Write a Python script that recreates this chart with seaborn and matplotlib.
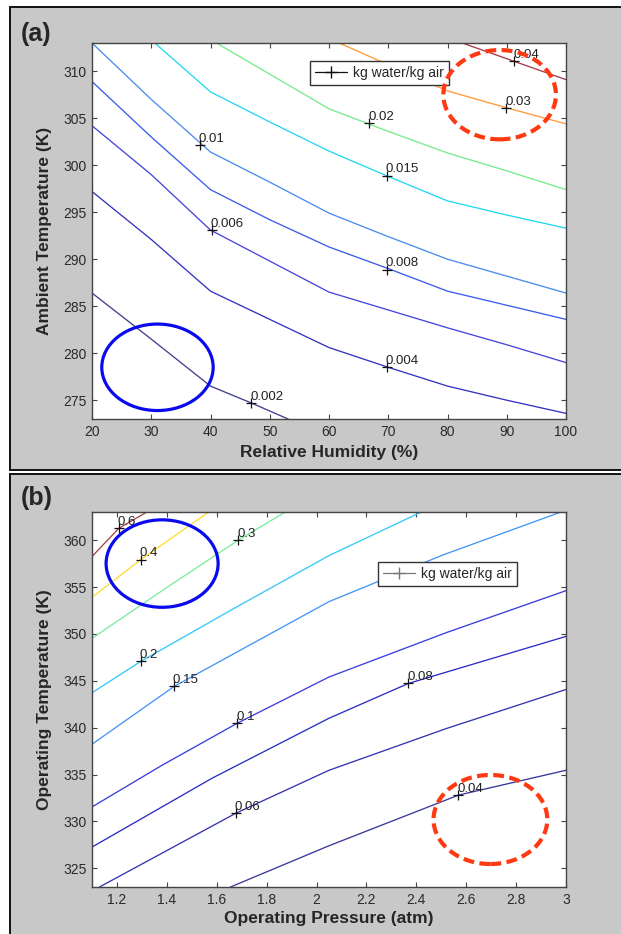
import matplotlib
matplotlib.use("Agg")
import matplotlib.pyplot as plt
import seaborn as sns
import pandas as pd
from matplotlib.patches import Ellipse, Rectangle
from matplotlib.lines import Line2D

# ---------------- Panel (a): humidity ratio vs RH and ambient T ----------------
a_levels = ["0.002", "0.004", "0.006", "0.008", "0.01", "0.015", "0.02", "0.03", "0.04"]
a_colors = ["#40408f", "#3434c0", "#4646dc", "#3a5cee", "#4a8cf0", "#22d8f0", "#78ec8c", "#ff9a3a", "#a83a48"]

rh_a_002 = [20, 30, 40, 46.9, 53.1]
t_a_002 = [286.4, 281.5, 276.5, 274.7, 273.0]
rh_a_004 = [20, 30, 40, 50, 60, 70, 80, 90, 100]
t_a_004 = [297.2, 292.1, 286.6, 283.6, 280.6, 278.5, 276.5, 275.0, 273.6]
rh_a_006 = [20, 30, 40, 50, 60, 70, 80, 90, 100]
t_a_006 = [304.2, 299.0, 293.1, 289.8, 286.5, 284.6, 282.7, 280.9, 279.0]
rh_a_008 = [20, 30, 40, 50, 60, 70, 80, 90, 100]
t_a_008 = [308.9, 303.0, 297.4, 294.2, 291.3, 289.0, 286.6, 285.1, 283.6]
rh_a_010 = [20, 30, 40, 50, 60, 70, 80, 90, 100]
t_a_010 = [313.0, 307.0, 301.4, 298.2, 294.9, 292.4, 290.0, 288.2, 286.4]
rh_a_015 = [30.6, 40, 50, 60, 70, 80, 90, 100]
t_a_015 = [313.0, 307.8, 304.6, 301.5, 298.8, 296.2, 294.7, 293.3]
rh_a_020 = [41.0, 60, 70, 80, 90, 100]
t_a_020 = [313.0, 306.0, 303.6, 301.3, 299.4, 297.4]
rh_a_030 = [61.7, 80, 90, 100]
t_a_030 = [313.0, 307.9, 306.1, 304.4]
rh_a_040 = [82.5, 100]
t_a_040 = [313.0, 309.1]

a_lab_rh = [38.2, 40.2, 46.9, 66.8, 69.8, 69.8, 69.8, 89.9, 91.3]
a_lab_t = [302.1, 293.1, 274.7, 304.5, 298.9, 288.9, 278.5, 306.1, 311.1]
a_lab_txt = ["0.01", "0.006", "0.002", "0.02", "0.015", "0.008", "0.004", "0.03", "0.04"]

a_xticks = [20, 30, 40, 50, 60, 70, 80, 90, 100]
a_yticks = [275, 280, 285, 290, 295, 300, 305, 310]

# ---------------- Panel (b): humidity ratio vs operating P and T ----------------
b_levels = ["0.04", "0.06", "0.08", "0.1", "0.15", "0.2", "0.3", "0.4", "0.6"]
b_colors = ["#38389a", "#3434b0", "#2c2cca", "#3a3ede", "#4496f6", "#36c8f8", "#7aeca0", "#ffdc30", "#a84444"]

p_b_004 = [1.655, 2.05, 2.569, 3.0]
t_b_004 = [323.0, 327.4, 332.8, 335.45]
p_b_006 = [1.13, 1.676, 2.05, 2.52, 3.0]
t_b_006 = [323.0, 330.86, 335.45, 339.9, 344.07]
p_b_008 = [1.1, 1.581, 2.05, 2.368, 3.0]
t_b_008 = [327.26, 334.6, 341.0, 344.71, 349.73]
p_b_010 = [1.1, 1.381, 1.683, 2.05, 2.52, 3.0]
t_b_010 = [331.54, 335.99, 340.48, 345.4, 350.13, 354.61]
p_b_015 = [1.1, 1.429, 2.05, 2.507, 2.98]
t_b_015 = [338.23, 344.39, 353.44, 358.42, 363.0]
p_b_020 = [1.1, 1.296, 1.675, 2.05, 2.42]
t_b_020 = [343.72, 347.07, 352.8, 358.35, 363.0]
p_b_030 = [1.1, 1.395, 1.686, 1.875]
t_b_030 = [349.52, 354.86, 359.99, 363.0]
p_b_040 = [1.1, 1.296, 1.568]
t_b_040 = [353.90, 357.93, 363.0]
p_b_060 = [1.1, 1.208, 1.32]
t_b_060 = [358.25, 361.27, 363.0]

b_lab_p = [1.208, 1.296, 1.686, 1.296, 1.429, 1.683, 2.368, 1.676, 2.569]
b_lab_t = [361.27, 357.93, 359.99, 347.07, 344.39, 340.48, 344.71, 330.86, 332.82]
b_lab_txt = ["0.6", "0.4", "0.3", "0.2", "0.15", "0.1", "0.08", "0.06", "0.04"]

b_xticks = [1.2, 1.4, 1.6, 1.8, 2.0, 2.2, 2.4, 2.6, 2.8, 3.0]
b_xticklabels = ["1.2", "1.4", "1.6", "1.8", "2", "2.2", "2.4", "2.6", "2.8", "3"]
b_yticks = [325, 330, 335, 340, 345, 350, 355, 360]

legend_label = "kg water/kg air"

# highlight ellipses (data coords): center x, center y, width, height
a_red_ell = [88.8, 307.5, 19.0, 9.5]
a_blue_ell = [31.05, 278.5, 18.8, 9.2]
b_blue_ell = [1.381, 357.5, 0.449, 9.33]
b_red_ell = [2.697, 330.2, 0.456, 9.5]

# ---------------------------------------------------------------------------
sns.set_theme(style="white")
plt.rcParams["font.family"] = ["Liberation Sans", "DejaVu Sans"]

W, H = 621, 934
fig = plt.figure(figsize=(W / 100, H / 100), dpi=100)
fig.patch.set_facecolor("white")


def fx(x):
    return x / W


def fy(y):
    return 1 - y / H


# gray panels with black borders
for (x0, y0, x1, y1) in [(9.5, 7.5, 640, 470), (10, 474.5, 640, 960)]:
    fig.add_artist(Rectangle((fx(x0), fy(y1)), fx(x1) - fx(x0), fy(y0) - fy(y1),
                             transform=fig.transFigure, facecolor="#c8c8c8",
                             edgecolor="#111111", lw=1.4, zorder=-5))

ax_a = fig.add_axes([fx(92), fy(419), fx(566) - fx(92), (419 - 43) / H])
ax_b = fig.add_axes([fx(92), fy(887), fx(566) - fx(92), (887 - 512) / H])

a_x = [rh_a_002, rh_a_004, rh_a_006, rh_a_008, rh_a_010, rh_a_015, rh_a_020, rh_a_030, rh_a_040]
a_y = [t_a_002, t_a_004, t_a_006, t_a_008, t_a_010, t_a_015, t_a_020, t_a_030, t_a_040]
df_a = pd.concat([pd.DataFrame({"x": xs, "y": ys, "level": lev})
                  for lev, xs, ys in zip(a_levels, a_x, a_y)], ignore_index=True)

b_x = [p_b_004, p_b_006, p_b_008, p_b_010, p_b_015, p_b_020, p_b_030, p_b_040, p_b_060]
b_y = [t_b_004, t_b_006, t_b_008, t_b_010, t_b_015, t_b_020, t_b_030, t_b_040, t_b_060]
df_b = pd.concat([pd.DataFrame({"x": xs, "y": ys, "level": lev})
                  for lev, xs, ys in zip(b_levels, b_x, b_y)], ignore_index=True)


def draw_panel(ax, df, levels, colors, lab_x, lab_y, lab_txt, leg_anchor, leg_color):
    sns.lineplot(data=df, x="x", y="y", hue="level", hue_order=levels,
                 palette=dict(zip(levels, colors)), sort=False, estimator=None,
                 legend=False, ax=ax, lw=0.95)
    sns.scatterplot(x=lab_x, y=lab_y, marker="+", s=50, color="#111111",
                    linewidth=0.9, ax=ax, legend=False, zorder=5)
    for x, y, s in zip(lab_x, lab_y, lab_txt):
        ax.annotate(s, (x, y), xytext=(-0.8, 2.2), textcoords="offset points",
                    ha="left", va="baseline", fontsize=9.5, color="#222222", zorder=6)
    h = Line2D([], [], color=leg_color, marker="+", lw=0.9, ms=8, mew=1.0)
    leg = ax.legend([h], [legend_label], loc="upper left", bbox_to_anchor=leg_anchor,
                    frameon=True, fancybox=False, edgecolor="#333333", fontsize=10,
                    handlelength=2.3, borderpad=0.35, handletextpad=0.45,
                    borderaxespad=0, framealpha=1)
    leg.get_frame().set_linewidth(1.0)
    for sp in ax.spines.values():
        sp.set_color("#444444")
        sp.set_linewidth(1.0)
    ax.tick_params(direction="in", length=3.5, width=0.8, color="#444444",
                   top=True, right=True, bottom=True, left=True,
                   labelsize=10, labelcolor="#2a2a2a", pad=4)
    ax.set_facecolor("white")


draw_panel(ax_a, df_a, a_levels, a_colors, a_lab_rh, a_lab_t, a_lab_txt, (0.46, 0.952), "#111111")
draw_panel(ax_b, df_b, b_levels, b_colors, b_lab_p, b_lab_t, b_lab_txt, (0.603, 0.867), "#777777")

ax_a.set_xlim(20, 100)
ax_a.set_ylim(273, 313)
ax_a.set_xticks(a_xticks)
ax_a.set_yticks(a_yticks)
ax_a.set_xlabel("Relative Humidity (%)", fontsize=12.5, fontweight="bold", va="center")
ax_a.set_ylabel("Ambient Temperature (K)", fontsize=12.5, fontweight="bold", va="center")
ax_a.xaxis.set_label_coords(0.5, (419 - 452) / 376)
ax_a.yaxis.set_label_coords((45 - 92) / 474, 0.5)

ax_b.set_xlim(1.1, 3.0)
ax_b.set_ylim(323, 363)
ax_b.set_xticks(b_xticks)
ax_b.set_xticklabels(b_xticklabels)
ax_b.set_yticks(b_yticks)
ax_b.set_xlabel("Operating Pressure (atm)", fontsize=12.5, fontweight="bold", va="center")
ax_b.set_ylabel("Operating Temperature (K)", fontsize=12.5, fontweight="bold", va="center")
ax_b.xaxis.set_label_coords(0.5, (887 - 918) / 375)
ax_b.yaxis.set_label_coords((45 - 92) / 474, 0.5)

# highlight ellipses
for ax, e in [(ax_a, a_red_ell), (ax_b, b_red_ell)]:
    ax.add_patch(Ellipse((e[0], e[1]), e[2], e[3], fill=False, ec="#ff3a12",
                         lw=3.0, ls=(0, (2.6, 1.3)), zorder=7, clip_on=False))
for ax, e in [(ax_a, a_blue_ell), (ax_b, b_blue_ell)]:
    ax.add_patch(Ellipse((e[0], e[1]), e[2], e[3], fill=False, ec="#0a0aee",
                         lw=2.3, zorder=7, clip_on=False))

# panel letters
fig.text(fx(21), fy(34.5), "(a)", fontsize=18, fontweight="bold", ha="left", va="center")
fig.text(fx(21), fy(498), "(b)", fontsize=18, fontweight="bold", ha="left", va="center")

fig.savefig("out.png", dpi=100, facecolor="white")
